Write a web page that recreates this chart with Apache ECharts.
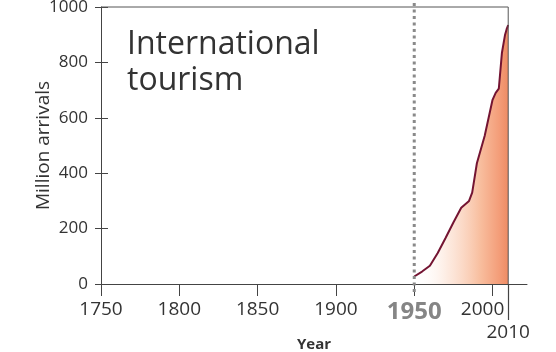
<!DOCTYPE html>
<html>
<head>
<meta charset="utf-8">
<script src="https://cdn.jsdelivr.net/npm/echarts@6/dist/echarts.min.js"></script>
<style>
  html, body { margin: 0; padding: 0; background: #fff; }
  #chart { width: 556px; height: 352px; }
</style>
</head>
<body>
<div id="chart"></div>
<script>
// International tourist arrivals, millions
const years = [1950, 1955, 1960, 1965, 1970, 1975, 1980, 1985, 1987, 1990, 1995, 2000, 2002, 2004, 2006, 2008, 2009, 2010];
const arrivals = [27, 45, 66, 112, 166, 222, 275, 300, 330, 436, 535, 665, 690, 705, 835, 900, 920, 935];
const yearTicks = [1750, 1800, 1850, 1900, 1950, 2000];
const endYear = [2010];
const arrivalTicks = [0, 200, 400, 600, 800, 1000];
// frame around the plot: top edge and right edge at 2010
const frameYears = [1750, 2010, 2010];
const frameValues = [1000, 1000, 0];
// dotted marker at 1950
const markerYears = [1950, 1950];
const markerValues = [1014, -40];

const font = 'Open Sans';
const ink = '#444';
const hidden = 'rgba(0,0,0,0)';
const chart = echarts.init(document.getElementById('chart'), null, { renderer: 'canvas' });

const pairs = (xs, ys) => xs.map((x, i) => [x, ys[i]]);
const guide = (xs, ys, style, z) => ({
  type: 'line', data: pairs(xs, ys), showSymbol: false, clip: false, silent: true, z, lineStyle: style
});

// 1950 is emphasised; 2000 is nudged left so the 2010 rule clears it
const yearLabel = v => v === 1950 ? '{big|1950}' : v === 2000 ? '{nudge|2000}' : String(v);

chart.setOption({
  animation: false,
  backgroundColor: '#fff',
  title: {
    text: 'International\ntourism',
    left: 122,
    top: 22,
    textStyle: { fontFamily: font, fontSize: 32, lineHeight: 36, fontWeight: 'normal', color: '#333' }
  },
  grid: { left: 101, right: 29, top: 7, bottom: 68, containLabel: false, outerBoundsMode: 'none' },
  xAxis: [
    {
      type: 'value', min: 1750, max: 2022,
      splitLine: { show: false },
      axisLine: { lineStyle: { color: ink, width: 1 } },
      axisTick: { customValues: yearTicks, length: 12, lineStyle: { color: ink } },
      axisLabel: {
        customValues: yearTicks, margin: 16, fontFamily: font, fontSize: 19, color: '#333',
        formatter: yearLabel,
        rich: {
          big: { fontFamily: font, fontSize: 24, fontWeight: 'bold', color: '#858585' },
          nudge: { fontFamily: font, fontSize: 19, color: '#333', padding: [0, 20, 0, 0] }
        }
      },
      name: 'Year', nameLocation: 'middle', nameGap: 53,
      nameTextStyle: { fontFamily: font, fontSize: 15, fontWeight: 'bold', color: '#333' }
    },
    {
      // long tick and label marking the final year
      type: 'value', min: 1750, max: 2022, position: 'bottom',
      splitLine: { show: false },
      axisLine: { show: true, lineStyle: { color: hidden } },
      axisTick: { show: true, customValues: endYear, length: 36, lineStyle: { color: ink, width: 1.2, opacity: 1 } },
      axisLabel: { customValues: endYear, margin: 39, fontFamily: font, fontSize: 19, color: '#333', formatter: v => String(v) }
    }
  ],
  yAxis: [
    {
      type: 'value', min: 0, max: 1000, interval: 200,
      splitLine: { show: false },
      axisLine: { show: true, lineStyle: { color: ink, width: 1 } },
      axisTick: { show: true, length: 6, lineStyle: { color: ink } },
      axisLabel: {
        customValues: arrivalTicks, margin: 13, fontFamily: font, fontSize: 17, color: '#333',
        formatter: v => String(v)
      },
      name: 'Million arrivals', nameLocation: 'middle', nameGap: 48, nameMoveOverlap: false,
      nameTextStyle: { fontFamily: font, fontSize: 19, color: '#333' }
    },
    {
      type: 'value', min: 0, max: 1000, interval: 200, position: 'left',
      splitLine: { show: false },
      axisLine: { show: true, lineStyle: { color: hidden } },
      axisTick: { show: true, inside: true, length: 7, lineStyle: { color: ink, opacity: 1 } },
      axisLabel: { show: false }
    }
  ],
  series: [
    {
      type: 'line',
      data: pairs(years, arrivals),
      showSymbol: false,
      z: 3,
      lineStyle: { color: '#741432', width: 2 },
      areaStyle: {
        color: {
          type: 'linear', x: 0, y: 0, x2: 1, y2: 0,
          colorStops: [
            { offset: 0, color: 'rgba(255,255,255,0)' },
            { offset: 0.35, color: 'rgba(251,215,195,0.7)' },
            { offset: 0.7, color: '#f5a376' },
            { offset: 0.9, color: '#ef7440' },
            { offset: 1, color: '#e85a20' }
          ]
        }
      }
    },
    guide(frameYears, frameValues, { color: '#555', width: 1 }, 4),
    guide(markerYears, markerValues, { color: '#8a8a8a', width: 3, type: [3, 3.5] }, 5)
  ]
});
</script>
</body>
</html>
